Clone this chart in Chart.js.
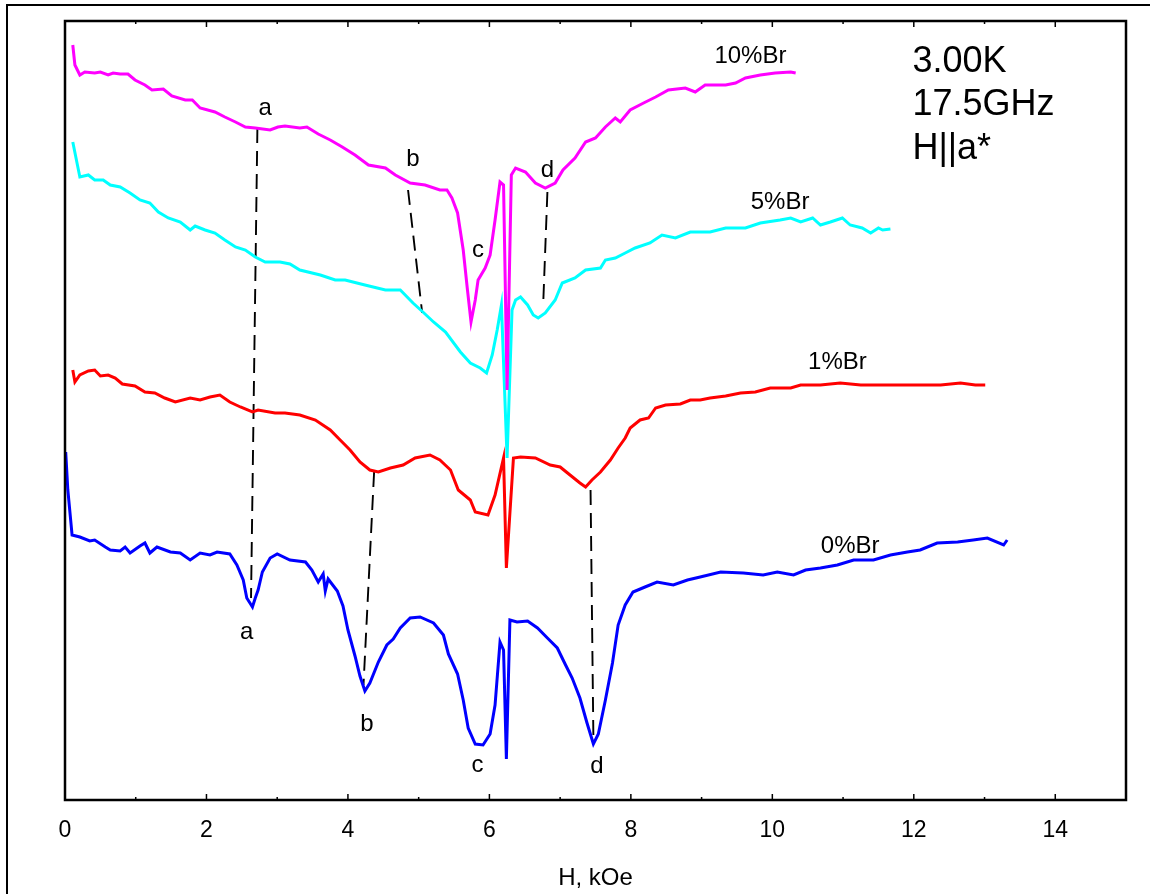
<!DOCTYPE html>
<html>
<head>
<meta charset="utf-8">
<script src="https://cdn.jsdelivr.net/npm/chart.js"></script>
<style>
  body { margin: 0; background: #fff; }
  canvas { display: block; }
</style>
</head>
<body>
<canvas id="esr" width="1150" height="894"></canvas>
<script>
// field in kOe, signal in arbitrary units
const h10 = [0.11,0.14,0.21,0.28,0.42,0.50,0.61,0.68,0.78,0.89,0.99,1.13,1.23,1.39,1.51,1.70,1.80,1.91,2.12,2.26,2.41,2.55,2.69,2.90,3.01,3.11,3.32,3.42,3.58,3.75,3.92,4.10,4.29,4.53,4.67,4.88,5.09,5.30,5.40,5.47,5.55,5.63,5.69,5.74,5.80,5.84,5.94,6.01,6.08,6.15,6.20,6.25,6.31,6.37,6.51,6.65,6.79,6.93,7.04,7.21,7.36,7.50,7.64,7.78,7.85,7.99,8.18,8.35,8.53,8.77,8.91,9.05,9.34,9.48,9.62,9.83,10.04,10.26,10.33];
const s10 = [75.5,73.5,72.5,72.8,72.7,72.8,72.5,72.7,72.6,72.6,72.0,71.5,71.0,71.1,70.4,70.0,70.0,69.2,68.8,68.3,67.8,67.3,67.2,67.0,67.3,67.4,67.2,67.3,66.6,66.0,65.3,64.5,63.5,63.2,62.5,61.7,61.5,61.0,61.0,60.2,58.7,55.0,51.0,47.8,50.0,52.0,53.2,54.5,58.0,61.8,61.5,41.0,62.5,63.2,62.8,61.7,61.2,61.7,63.0,64.2,65.8,66.2,67.3,68.2,67.8,69.0,69.7,70.3,71.0,71.2,70.8,71.5,71.5,71.7,72.2,72.5,72.7,72.8,72.7];

const h5 = [0.11,0.21,0.33,0.42,0.54,0.64,0.78,0.92,1.06,1.20,1.32,1.46,1.63,1.77,1.84,1.98,2.12,2.26,2.41,2.55,2.69,2.83,3.04,3.18,3.32,3.61,3.82,3.96,4.24,4.53,4.74,4.92,5.06,5.21,5.38,5.59,5.73,5.87,5.96,6.04,6.11,6.17,6.25,6.32,6.37,6.44,6.54,6.62,6.69,6.79,6.93,7.03,7.21,7.36,7.57,7.64,7.78,7.92,8.06,8.27,8.44,8.63,8.84,9.12,9.34,9.62,9.83,10.11,10.26,10.40,10.57,10.68,10.82,10.99,11.10,11.27,11.39,11.50,11.56,11.67];
const s5 = [65.8,62.3,62.5,62.0,62.0,61.5,61.3,60.7,60.0,59.7,58.8,58.2,57.8,57.0,57.4,57.0,56.7,56.0,55.3,55.0,54.3,53.8,53.8,53.6,53.0,52.5,52.0,52.0,51.5,51.0,51.0,49.7,48.8,47.8,46.8,44.8,43.7,43.2,42.7,44.5,47.0,49.5,34.2,49.0,50.0,50.3,49.5,48.5,48.2,48.7,50.0,51.7,52.2,53.0,53.2,54.0,54.2,54.7,55.2,55.7,56.5,56.2,56.8,56.8,57.2,57.2,57.7,58.0,58.2,57.8,58.2,57.5,57.8,58.2,57.5,57.2,56.7,57.2,57.0,57.1];

const h1 = [0.11,0.14,0.21,0.33,0.42,0.50,0.61,0.71,0.81,0.99,1.13,1.27,1.41,1.56,1.77,1.91,2.05,2.19,2.33,2.48,2.65,2.73,2.97,3.11,3.32,3.54,3.75,3.89,4.03,4.17,4.31,4.43,4.60,4.78,4.95,5.16,5.30,5.45,5.56,5.73,5.80,5.98,6.08,6.20,6.24,6.34,6.44,6.65,6.86,7.00,7.14,7.28,7.36,7.45,7.57,7.71,7.82,7.92,7.99,8.13,8.25,8.35,8.49,8.70,8.84,8.98,9.12,9.34,9.55,9.76,9.97,10.26,10.40,10.68,10.96,11.25,11.53,11.81,12.09,12.38,12.66,12.87,13.01];
const s1 = [43.0,41.8,42.5,42.9,43.0,42.4,42.5,42.2,41.6,41.4,40.8,40.7,40.2,39.8,40.2,40.0,40.3,40.5,39.8,39.3,38.8,39.0,38.7,38.7,38.5,38.0,37.0,36.0,35.0,33.8,33.0,32.8,33.2,33.5,34.2,34.5,34.0,33.0,31.0,30.0,28.8,28.5,30.5,34.2,23.2,34.2,34.3,34.2,33.5,33.3,32.5,31.7,31.3,32.0,32.8,34.0,35.2,36.2,37.2,38.0,38.2,39.2,39.5,39.6,40.0,40.0,40.2,40.4,40.7,40.8,41.2,41.2,41.5,41.5,41.7,41.5,41.5,41.5,41.5,41.5,41.7,41.5,41.5];

const h0 = [0.01,0.04,0.10,0.21,0.35,0.42,0.57,0.64,0.78,0.85,0.92,1.06,1.13,1.20,1.30,1.49,1.63,1.77,1.91,2.05,2.15,2.33,2.43,2.52,2.57,2.65,2.69,2.73,2.79,2.90,3.00,3.18,3.40,3.49,3.58,3.65,3.68,3.72,3.85,3.93,4.00,4.10,4.17,4.24,4.31,4.43,4.55,4.64,4.74,4.88,5.02,5.21,5.35,5.42,5.55,5.63,5.70,5.80,5.91,6.01,6.08,6.15,6.20,6.24,6.29,6.39,6.54,6.68,6.82,6.96,7.07,7.17,7.28,7.38,7.47,7.54,7.64,7.74,7.82,7.92,8.03,8.20,8.37,8.60,8.80,8.98,9.27,9.59,9.87,10.07,10.30,10.47,10.68,10.92,11.15,11.43,11.67,11.91,12.09,12.33,12.62,12.84,13.04,13.27,13.32];
const s0 = [34.8,31.0,26.5,26.3,25.9,26.0,25.3,25.0,24.9,25.3,24.7,25.4,25.7,24.7,25.3,24.8,24.7,24.0,24.7,24.5,24.8,24.6,23.5,22.0,20.2,19.3,20.2,21.0,22.8,24.2,24.6,24.0,23.8,23.0,21.8,22.6,20.9,22.1,20.9,19.4,17.0,14.4,12.4,10.9,11.7,13.8,15.5,16.1,17.2,18.2,18.3,17.7,16.5,14.6,12.6,10.0,7.2,5.6,5.5,6.6,9.5,15.8,15.0,4.1,18.0,17.8,17.9,17.2,16.2,15.2,13.6,12.2,10.2,7.7,5.6,6.6,10.0,13.7,17.5,19.5,20.8,21.3,21.8,21.5,22.0,22.3,22.8,22.7,22.5,22.8,22.5,23.0,23.2,23.5,24.0,24.0,24.5,24.8,25.0,25.7,25.8,26.0,26.2,25.5,26.0];

// dashed guides joining the a, b, d lines between curves [h start, s start, h end, s end]
const guides = [
  [2.72, 67.2, 2.63, 20.2],
  [4.85, 61.0, 5.05, 48.7],
  [4.37, 32.8, 4.22, 11.5],
  [6.82, 60.8, 6.76, 49.5],
  [7.43, 31.0, 7.47, 6.3]
];

// text labels: [text, field, signal(baseline)]
const lineLabels = [
  ['a', 2.83, 68.5], ['b', 4.92, 63.4], ['c', 5.84, 54.3], ['d', 6.82, 62.3],
  ['a', 2.57, 16.1], ['b', 4.27, 6.9], ['c', 5.83, 2.8], ['d', 7.52, 2.7],
  ['10%Br', 9.69, 73.7], ['5%Br', 10.11, 59.1], ['1%Br', 10.92, 43.1], ['0%Br', 11.10, 24.7]
];
const infoLines = ['3.00K', '17.5GHz', 'H||a*'];
const infoPos = [11.98, [72.8, 68.5, 64.1]];

const FONT = '"Liberation Sans", Arial, sans-serif';

function pts(xs, ys) {
    return xs.map((v, i) => ({ x: v, y: ys[i] }));
}

const curves = [
    { label: '10%Br', data: pts(h10, s10), color: '#ff00ff' },
    { label: '5%Br', data: pts(h5, s5), color: '#00ffff' },
    { label: '1%Br', data: pts(h1, s1), color: '#ff0000' },
    { label: '0%Br', data: pts(h0, s0), color: '#0000ff' }
];

const datasets = curves.map(c => ({
    label: c.label,
    data: c.data,
    borderColor: c.color,
    borderWidth: 3,
    pointRadius: 0,
    tension: 0,
    fill: false
}));

guides.forEach(g => {
    datasets.push({
        label: 'guide',
        data: [{ x: g[0], y: g[1] }, { x: g[2], y: g[3] }],
        borderColor: '#000',
        borderWidth: 1.9,
        borderDash: [15, 8],
        pointRadius: 0,
        fill: false,
        order: 1
    });
});

// box, inward ticks, outer frame and text
const framePlugin = {
    id: 'frame',
    afterDraw(chart) {
        const { ctx, chartArea: a, scales: { x, y } } = chart;
        ctx.save();
        ctx.strokeStyle = '#000';

        ctx.lineWidth = 2;
        ctx.beginPath();
        ctx.moveTo(7, chart.height);
        ctx.lineTo(7, 5);
        ctx.lineTo(chart.width, 5);
        ctx.stroke();

        ctx.lineWidth = 2.5;
        ctx.strokeRect(a.left, a.top, a.right - a.left, a.bottom - a.top);

        ctx.lineWidth = 1.5;
        for (let v = 1; v < 15; v++) {
            const px = x.getPixelForValue(v);
            const len = v % 2 === 0 ? 6 : 3;
            ctx.beginPath();
            ctx.moveTo(px, a.bottom);
            ctx.lineTo(px, a.bottom - len);
            ctx.moveTo(px, a.top);
            ctx.lineTo(px, a.top + len);
            ctx.stroke();
        }

        ctx.fillStyle = '#000';
        ctx.textBaseline = 'alphabetic';
        ctx.textAlign = 'center';
        ctx.font = '24px ' + FONT;
        lineLabels.forEach(([t, hx, sy]) => {
            ctx.fillText(t, x.getPixelForValue(hx), y.getPixelForValue(sy));
        });

        ctx.textAlign = 'left';
        ctx.font = '36px ' + FONT;
        infoLines.forEach((t, i) => {
            ctx.fillText(t, x.getPixelForValue(infoPos[0]), y.getPixelForValue(infoPos[1][i]));
        });
        ctx.restore();
    }
};

new Chart(document.getElementById('esr').getContext('2d'), {
    type: 'line',
    data: { datasets: datasets },
    options: {
        responsive: false,
        animation: false,
        layout: { padding: { left: 65, top: 21, right: 24, bottom: 0 } },
        plugins: {
            legend: { display: false },
            tooltip: { enabled: false }
        },
        scales: {
            x: {
                type: 'linear',
                min: 0,
                max: 15,
                grid: { display: false },
                border: { display: false },
                ticks: {
                    stepSize: 1,
                    autoSkip: false,
                    maxRotation: 0,
                    padding: 9,
                    color: '#000',
                    font: { family: FONT, size: 23 },
                    callback: v => (v % 2 === 0 ? v : '')
                },
                title: {
                    display: true,
                    text: 'H, kOe',
                    color: '#000',
                    font: { family: FONT, size: 24, lineHeight: 1 },
                    padding: { top: 0, bottom: 4 }
                },
                afterFit: scale => { scale.height = 94; }
            },
            y: {
                type: 'linear',
                min: 0,
                max: 77.9,
                display: false
            }
        }
    },
    plugins: [framePlugin]
});
</script>
</body>
</html>
